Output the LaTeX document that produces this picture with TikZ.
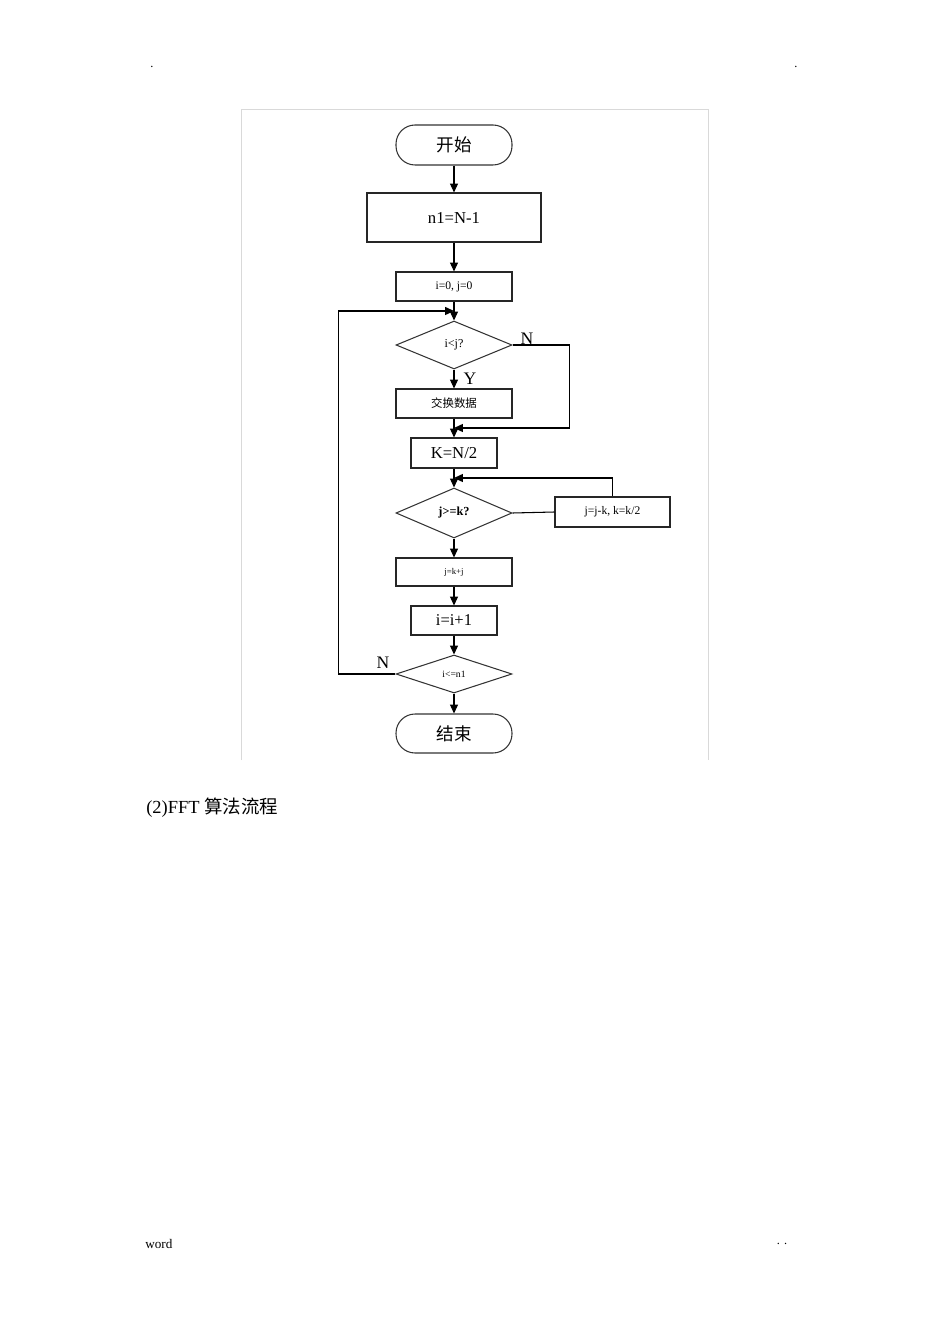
\documentclass[tikz,border=0pt]{standalone}
\usepackage{fontspec}
\setmainfont{Liberation Serif}
\newfontfamily\cjk{Noto Sans CJK SC}
\usetikzlibrary{shapes.geometric,arrows.meta}

\tikzset{
  term/.style={draw=black!80, line width=0.6pt, rounded corners=0.38cm,
    minimum width=2.32cm, font=\cjk\fontsize{10}{12}\selectfont},
  proc/.style={draw=black!85, line width=0.6pt, inner sep=1pt},
  test/.style={diamond, draw=black!80, line width=0.6pt, minimum width=2.32cm,
    inner sep=0pt},
  arr/.style={-{Triangle[length=5pt,width=4.5pt]}, line width=0.6pt},
  link/.style={line width=0.6pt},
  tag/.style={font=\fontsize{10}{12}\selectfont},
}

\begin{document}
\begin{tikzpicture}[x=0.02cm,y=-0.02cm]
	\useasboundingbox (0,0) rectangle (950,1344);

	% page marks
	\node[font=\fontsize{7}{8}\selectfont] (dotl) at (152,67) {.};
	\node[font=\fontsize{7}{8}\selectfont] (dotr) at (796,67) {.};
	\draw[black!15, line width=0.5pt] (241,760) -- (241,109) -- (708,109) -- (708,760);

	% boxes
	\node[term, minimum height=0.8cm] (start) at (454,145) {开始};
	\node[proc, minimum width=3.48cm, minimum height=0.98cm, font=\fontsize{9.5}{11}\selectfont] (n1box) at (454,217.5) {n1=N-1};
	\node[proc, minimum width=2.32cm, minimum height=0.58cm, font=\fontsize{6.6}{8}\selectfont] (init) at (454,286.5) {i=0, j=0};
	\node[test, minimum height=0.96cm, font=\fontsize{6.9}{8}\selectfont] (cmp1) at (454,345) {i<j?};
	\node[proc, minimum width=2.32cm, minimum height=0.58cm, font=\cjk\fontsize{6.5}{8}\selectfont] (swap) at (454,403.5) {交换数据};
	\node[proc, minimum width=1.72cm, minimum height=0.6cm, font=\fontsize{9.5}{11}\selectfont] (kbox) at (454,453) {K=N/2};
	\node[test, minimum height=1.0cm, font=\bfseries\fontsize{7}{8}\selectfont] (cmp2) at (454,513) {j>=k?};
	\node[proc, minimum width=2.3cm, minimum height=0.6cm, font=\fontsize{6.6}{8}\selectfont] (upd) at (612.5,512) {j=j-k, k=k/2};
	\node[proc, minimum width=2.32cm, minimum height=0.56cm, font=\fontsize{5}{6}\selectfont] (addk) at (454,572) {j=k+j};
	\node[proc, minimum width=1.72cm, minimum height=0.58cm, font=\fontsize{9.4}{11}\selectfont] (inc) at (454,620.5) {i=i+1};
	\node[test, minimum height=0.76cm, font=\fontsize{5.5}{6}\selectfont] (cmp3) at (454,674) {i<=n1};
	\node[term, minimum height=0.78cm] (stop) at (454,733.5) {结束};

	\coordinate (j1) at (454,311);
	\coordinate (j2) at (454,428);
	\coordinate (j3) at (454,478);

	% connectors
	\draw[arr] (start) -- (n1box);
	\draw[arr] (n1box) -- (init);
	\draw[arr] (init) -- (cmp1);
	\draw[arr] (cmp1) -- (swap);
	\draw[arr] (cmp1.east) -- ++(57,0) |- (j2);
	\draw[arr] (swap) -- (kbox);
	\draw[arr] (kbox) -- (cmp2);
	\draw[link] (cmp2.east) -- (upd.west);
	\draw[arr] (upd.north) |- (j3);
	\draw[arr] (cmp2) -- (addk);
	\draw[arr] (addk) -- (inc);
	\draw[arr] (inc) -- (cmp3);
	\draw[arr] (cmp3) -- (stop);
	\draw[arr] (cmp3.west) -- ++(-57,0) |- (j1);

	% branch labels
	\node[tag] (ny1) at (527,339) {N};
	\node[tag] (yy1) at (470,379) {Y};
	\node[tag] (ny3) at (383,663) {N};

	% caption and footer
	\node[anchor=west, inner sep=0pt] (cap) at (146,808) {\fontsize{10.5}{12}\selectfont(2)FFT {\cjk 算法流程}};
	\node[anchor=west, inner sep=0pt, font=\fontsize{7.5}{9}\selectfont] (foot) at (145,1244) {word};
	\node[font=\fontsize{7}{8}\selectfont] (dots) at (782,1244) {. .};
\end{tikzpicture}
\end{document}
